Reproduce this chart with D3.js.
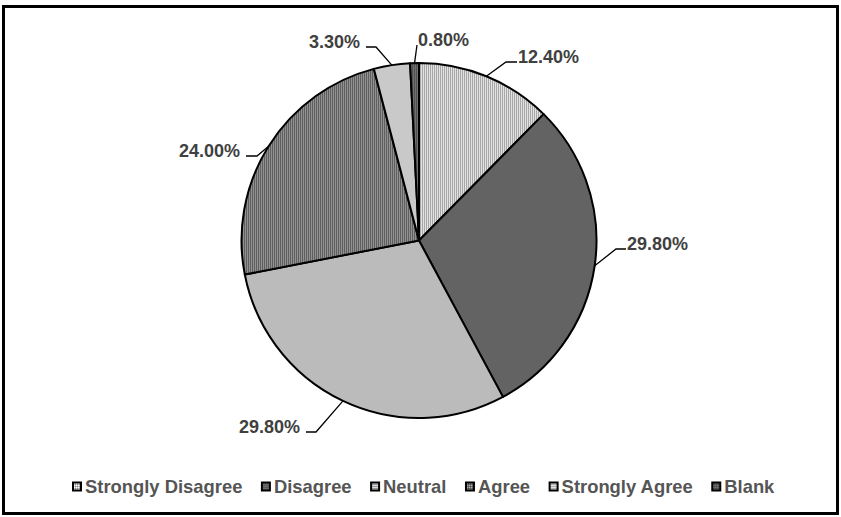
<!DOCTYPE html>
<html>
<head>
<meta charset="utf-8">
<script src="https://cdn.jsdelivr.net/npm/d3@7/dist/d3.min.js"></script>
<style>
  html, body { margin: 0; padding: 0; background: #fff; }
  svg { display: block; }
  text { font-family: "Liberation Sans", Arial, sans-serif; font-weight: bold; }
</style>
</head>
<body>
<svg id="chart" width="841" height="517"></svg>
<script>
// Survey responses, share of respondents (%)
const categories = ["Strongly Disagree", "Disagree", "Neutral", "Agree", "Strongly Agree", "Blank"];
const values = [12.4, 29.8, 29.8, 24.0, 3.3, 0.8];
const valueLabels = ["12.40%", "29.80%", "29.80%", "24.00%", "3.30%", "0.80%"];

// Fill textures: 2x2 pixel tiles [top-left, top-right, bottom-left, bottom-right]
const tiles = [
  ["#ffffff", "#c4c4c4", "#c4c4c4", "#8a8a8a"],
  ["#5a5a5a", "#5a5a5a", "#6c6c6c", "#6c6c6c"],
  ["#dcdcdc", "#dcdcdc", "#999999", "#999999"],
  ["#b4b4b4", "#6e6e6e", "#6e6e6e", "#505050"],
  ["#e2e2e2", "#e2e2e2", "#b0b0b0", "#b0b0b0"],
  ["#8a8a8a", "#555555", "#555555", "#4a4a4a"]
];

// Label placement relative to the pie centre: leader end point, side of the text
const labelLayout = [
  { end: [98, -178.5], elbow: 11, side: "right" },
  { end: [207, 8.5], elbow: 10, side: "right" },
  { end: [-113, 191.5], elbow: 10, side: "left" },
  { end: [-173, -84.5], elbow: 11, side: "left" },
  { end: [-53, -193.5], elbow: 10, side: "left" },
  { end: [-2, -195.5], elbow: 0, side: "right" }
];

const svg = d3.select("#chart");
const cx = 419, cy = 240.5, radius = 177.5;

// Patterns
const defs = svg.append("defs");
tiles.forEach((t, i) => {
  const p = defs.append("pattern")
    .attr("id", "pat" + i)
    .attr("patternUnits", "userSpaceOnUse")
    .attr("width", 2).attr("height", 2);
  [[0, 0], [1, 0], [0, 1], [1, 1]].forEach(([x, y], k) => {
    p.append("rect").attr("x", x).attr("y", y).attr("width", 1).attr("height", 1)
      .attr("fill", t[k]).attr("shape-rendering", "crispEdges");
  });
});

// Frame
svg.append("rect")
  .attr("x", 3.5).attr("y", 6.5).attr("width", 834).attr("height", 507)
  .attr("fill", "none").attr("stroke", "#000").attr("stroke-width", 3);

const pie = d3.pie().sort(null).value(d => d)(values);
const arc = d3.arc().innerRadius(0).outerRadius(radius);

const g = svg.append("g").attr("transform", `translate(${cx},${cy})`);

g.selectAll("path.slice")
  .data(pie)
  .join("path")
  .attr("class", "slice")
  .attr("d", arc)
  .attr("fill", (d, i) => `url(#pat${i})`)
  .attr("stroke", "#000")
  .attr("stroke-width", 2)
  .attr("stroke-linejoin", "round");

// Leader lines and value labels
pie.forEach((d, i) => {
  const mid = (d.startAngle + d.endAngle) / 2;
  const sx = radius * Math.sin(mid), sy = -radius * Math.cos(mid);
  const L = labelLayout[i];
  const [ex, ey] = L.end;
  const bx = L.side === "right" ? ex - L.elbow : ex + L.elbow;
  g.append("polyline")
    .attr("points", `${sx},${sy} ${bx},${ey} ${ex},${ey}`)
    .attr("fill", "none")
    .attr("stroke", "#000")
    .attr("stroke-width", 1.3);
  g.append("text")
    .attr("x", L.side === "right" ? ex + 1 : ex - 6)
    .attr("y", ey + 1)
    .attr("text-anchor", L.side === "right" ? "start" : "end")
    .attr("font-size", 18)
    .attr("fill", "#404040")
    .text(valueLabels[i]);
});

// Legend
const legend = svg.append("g");
const items = legend.selectAll("g.item").data(categories).join("g").attr("class", "item");
items.append("rect")
  .attr("x", 1).attr("y", -10.5)
  .attr("width", 8).attr("height", 8)
  .attr("fill", (d, i) => `url(#pat${i})`)
  .attr("stroke", "#000").attr("stroke-width", 2);
items.append("text")
  .attr("x", 13).attr("y", 0)
  .attr("font-size", 18.4)
  .attr("fill", "#555555")
  .text(d => d);

let xpos = 0;
const gap = 18.5;
items.each(function () {
  const w = 13 + d3.select(this).select("text").node().getComputedTextLength();
  d3.select(this).attr("data-x", xpos);
  xpos += w + gap;
});
const startX = 72;
items.attr("transform", function () {
  return `translate(${startX + (+this.getAttribute("data-x"))},493)`;
});
</script>
</body>
</html>
